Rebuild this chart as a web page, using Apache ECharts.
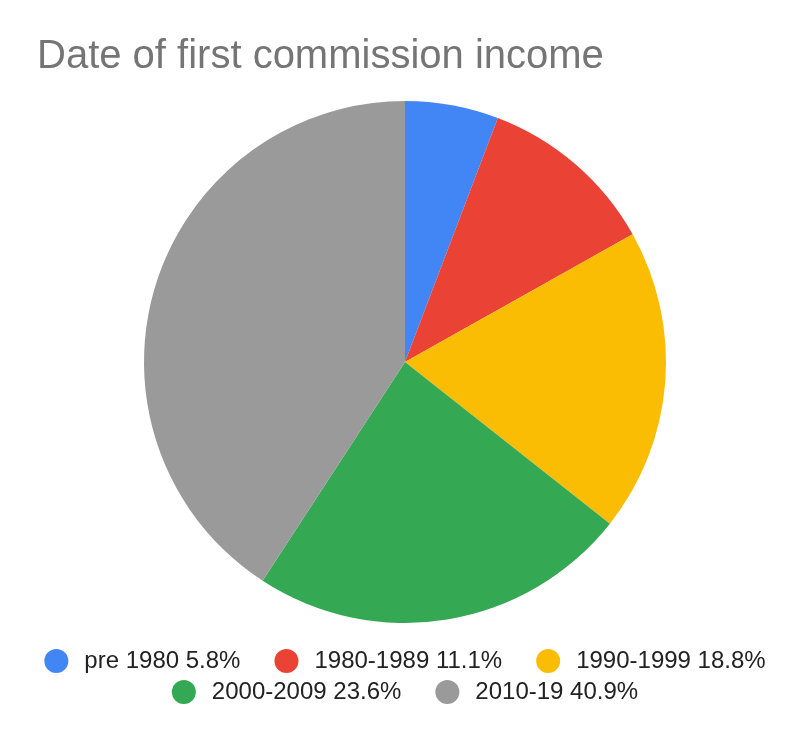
<!DOCTYPE html>
<html>
<head>
<meta charset="utf-8">
<script src="https://cdn.jsdelivr.net/npm/echarts@6/dist/echarts.min.js"></script>
<style>html,body{margin:0;padding:0;background:#fff}#c{width:810px;height:742px}</style>
</head>
<body>
<div id="c"></div>
<script>
const categories = ["pre 1980", "1980-1989", "1990-1999", "2000-2009", "2010-19"];
const values = [5.8, 11.1, 18.8, 23.6, 40.9];
const colors = ["#4285F4", "#EA4335", "#FBBC04", "#34A853", "#9A9A9A"];
const titleText = "Date of first commission income";

const chart = echarts.init(document.getElementById('c'));
const fmt = name => name + ' ' + values[categories.indexOf(name)] + '%';
const legendCommon = {
  orient: 'horizontal',
  left: 'center',
  icon: 'circle',
  itemWidth: 24,
  itemHeight: 24,
  itemGap: 34,
  padding: 0,
  formatter: fmt,
  textStyle: { fontSize: 24, color: '#222', fontFamily: 'Liberation Sans, Arial, sans-serif', padding: [0, 0, 0, 11] }
};
chart.setOption({
  animation: false,
  color: colors,
  title: {
    text: titleText,
    left: 37,
    top: 37,
    padding: 0,
    textStyle: { fontSize: 40, fontWeight: 'normal', color: '#757575', fontFamily: 'Liberation Sans, Arial, sans-serif' }
  },
  legend: [
    Object.assign({}, legendCommon, { top: 649, data: categories.slice(0, 3) }),
    Object.assign({}, legendCommon, { top: 680, data: categories.slice(3) })
  ],
  series: [{
    type: 'pie',
    center: [405, 362],
    radius: [0, 261],
    startAngle: 90,
    clockwise: true,
    label: { show: false },
    labelLine: { show: false },
    emphasis: { disabled: true },
    data: categories.map((c, i) => ({ name: c, value: values[i] }))
  }]
});
</script>
</body>
</html>
